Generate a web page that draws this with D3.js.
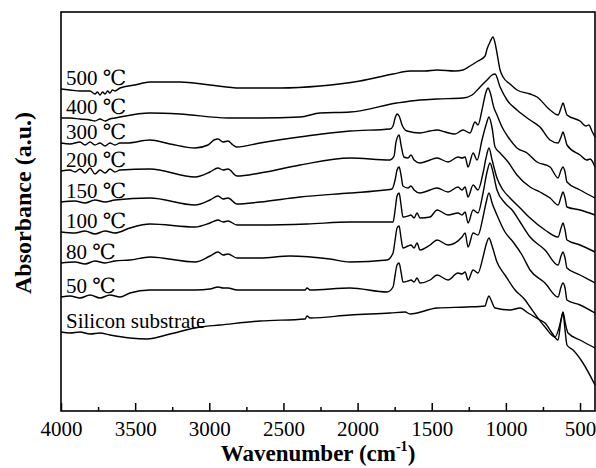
<!DOCTYPE html>
<html>
<head>
<meta charset="utf-8">
<script src="https://cdn.jsdelivr.net/npm/d3@7"></script>
<style>
  body { margin: 0; background: #fff; }
  svg { display: block; }
</style>
</head>
<body>
<div id="wrapper"></div>
<script>
// FTIR spectra, [wavenumber (cm-1), absorbance (a.u., stacked)]
const majorTicks = [4000, 3500, 3000, 2500, 2000, 1500, 1000, 500]
const minorTicks = [3750, 3250, 2750, 2250, 1750, 1250, 750]
const curveNames = ["500 ℃", "400 ℃", "300 ℃", "200 ℃", "150 ℃", "100 ℃", "80 ℃", "50 ℃", "Silicon substrate"]

const s500 = [[4000,322],[3939,321],[3872,320],[3804,320],[3771,317],[3754,319],[3737,316],[3720,319],[3703,317],[3686,320],[3670,318],[3653,321],[3636,320],[3602,323],[3501,326],[3400,329],[3197,329],[2995,326],[2793,323],[2523,323],[2253,325],[1984,330],[1761,337],[1646,340],[1545,340],[1464,341],[1343,340],[1289,341],[1242,345],[1188,350],[1140,355],[1127,362],[1107,369],[1087,374],[1073,368],[1060,358],[1039,341],[1019,334],[972,327],[925,321],[837,317],[790,314],[702,301],[648,296],[628,303],[615,308],[601,302],[588,296],[500,290],[460,285],[440,286],[420,280],[399,274]]
const s400 = [[4000,293],[3939,293],[3872,292],[3804,291],[3771,290],[3737,292],[3703,290],[3670,292],[3636,293],[3602,294],[3400,298],[3197,297],[2874,293],[2658,293],[2388,294],[2253,298],[2051,299],[1734,308],[1579,311],[1464,312],[1289,313],[1228,316],[1174,324],[1127,331],[1093,336],[1073,337],[1039,324],[992,311],[925,301],[837,291],[770,284],[702,271],[648,268],[628,274],[615,279],[601,273],[588,266],[500,256],[453,251],[432,252],[399,244]]
const s300 = [[4000,268],[3939,267],[3872,269],[3838,266],[3804,269],[3771,266],[3737,268],[3703,265],[3670,268],[3636,266],[3602,268],[3555,268],[3400,271],[3265,267],[3096,263],[3009,266],[2968,271],[2941,272],[2907,269],[2874,270],[2840,266],[2813,264],[2658,268],[2341,275],[2186,278],[2051,280],[1781,282],[1761,285],[1747,293],[1734,297],[1720,295],[1700,286],[1667,280],[1579,278],[1511,280],[1464,281],[1410,279],[1343,277],[1289,281],[1242,278],[1208,289],[1188,286],[1161,301],[1134,319],[1120,323],[1107,319],[1080,303],[1060,296],[1026,284],[985,274],[925,263],[857,258],[790,249],[702,244],[648,233],[628,241],[615,244],[601,239],[588,229],[500,221],[399,213]]
const s200 = [[4000,240],[3939,241],[3906,239],[3872,242],[3838,238],[3804,243],[3771,237],[3737,241],[3703,238],[3670,242],[3636,239],[3602,241],[3400,242],[3096,234],[2995,239],[2941,243],[2907,241],[2874,242],[2813,235],[2658,238],[2388,246],[2051,253],[1781,251],[1754,255],[1741,269],[1720,276],[1707,266],[1687,254],[1660,253],[1640,256],[1619,251],[1579,248],[1511,251],[1464,253],[1390,249],[1323,254],[1296,253],[1275,254],[1255,244],[1221,258],[1194,251],[1161,271],[1134,286],[1114,294],[1093,283],[1073,264],[1039,258],[985,249],[925,236],[837,224],[770,219],[702,213],[648,206],[628,214],[615,219],[601,213],[588,204],[500,201],[399,196]]
const s150 = [[4000,209],[3906,210],[3838,208],[3771,211],[3703,209],[3636,211],[3400,213],[3096,206],[2995,211],[2941,215],[2907,212],[2874,213],[2813,207],[2658,209],[2388,214],[2051,218],[1815,221],[1768,222],[1747,231],[1734,241],[1720,244],[1707,236],[1694,225],[1660,223],[1640,225],[1619,221],[1579,218],[1511,221],[1464,223],[1390,219],[1323,224],[1296,221],[1275,224],[1255,214],[1221,226],[1188,221],[1154,238],[1134,253],[1114,263],[1093,251],[1060,233],[1019,221],[972,213],[904,203],[837,193],[736,181],[648,174],[628,183],[615,188],[601,181],[588,171],[500,166],[399,159]]
const s100 = [[4000,179],[3906,178],[3838,180],[3771,177],[3703,180],[3636,178],[3535,183],[3400,187],[3096,184],[2995,188],[2941,191],[2907,189],[2874,190],[2813,186],[2658,186],[2341,187],[2051,189],[1761,189],[1747,201],[1734,215],[1720,218],[1707,206],[1694,194],[1660,195],[1640,196],[1619,193],[1599,198],[1579,193],[1511,194],[1464,201],[1390,196],[1323,198],[1296,196],[1275,199],[1255,188],[1221,201],[1188,198],[1154,218],[1127,239],[1107,248],[1087,239],[1060,221],[1006,208],[958,201],[904,189],[837,174],[736,161],[648,146],[628,155],[615,159],[601,153],[588,143],[500,136],[399,128]]
const s80 = [[4000,148],[3906,149],[3838,147],[3771,150],[3703,148],[3636,150],[3535,151],[3400,154],[3096,149],[2995,155],[2941,159],[2907,156],[2874,157],[2813,153],[2658,153],[2456,155],[2186,152],[2051,149],[1801,151],[1761,158],[1747,171],[1734,183],[1720,185],[1707,173],[1694,163],[1660,165],[1640,166],[1619,163],[1599,168],[1579,161],[1511,166],[1464,171],[1390,166],[1296,174],[1275,178],[1255,164],[1221,178],[1188,176],[1154,194],[1134,208],[1114,218],[1093,208],[1060,196],[1006,179],[951,169],[891,156],[837,141],[736,128],[648,114],[628,124],[615,128],[601,123],[588,111],[500,106],[399,98]]
const s50 = [[4000,114],[3939,115],[3872,113],[3804,116],[3737,113],[3670,116],[3602,114],[3535,118],[3400,121],[3096,121],[2995,122],[2941,124],[2907,123],[2874,123],[2813,121],[2354,121],[2341,123],[2320,121],[2051,123],[1801,119],[1761,124],[1747,136],[1734,146],[1720,148],[1707,139],[1694,129],[1660,130],[1640,131],[1619,129],[1599,133],[1579,128],[1511,131],[1464,136],[1390,131],[1323,138],[1296,137],[1275,139],[1255,131],[1221,141],[1188,138],[1154,154],[1134,166],[1114,173],[1093,165],[1060,149],[1006,136],[938,121],[870,111],[837,104],[736,84],[669,74],[628,91],[615,99],[601,89],[581,78],[500,71],[399,63]]
const sSilicon = [[4000,79],[3939,78],[3872,79],[3804,77],[3737,78],[3670,76],[3535,73],[3420,72],[3265,77],[3063,84],[2928,86],[2658,90],[2354,92],[2341,95],[2320,93],[2051,96],[1781,98],[1680,99],[1646,97],[1464,103],[1262,104],[1140,105],[1127,111],[1114,115],[1100,111],[1073,103],[972,101],[904,103],[850,98],[770,91],[736,88],[689,78],[648,71],[628,91],[615,98],[601,81],[588,66],[547,61],[480,48],[399,26]]

const spectra = [s500, s400, s300, s200, s150, s100, s80, s50, sSilicon]

let dimensions = {
    width: 596,
    height: 468,
    margin: { top: 12, right: 1, bottom: 57, left: 61 },
}
dimensions.boundedWidth = dimensions.width - dimensions.margin.left - dimensions.margin.right
dimensions.boundedHeight = dimensions.height - dimensions.margin.top - dimensions.margin.bottom

const wrapper = d3.select("#wrapper")
  .append("svg")
    .attr("width", dimensions.width)
    .attr("height", dimensions.height)

const bounds = wrapper.append("g")
    .attr("transform", `translate(${dimensions.margin.left},${dimensions.margin.top})`)

const xScale = d3.scaleLinear()
    .domain([4000, 399])
    .range([0, dimensions.boundedWidth])
const yScale = d3.scaleLinear()
    .domain([0, 399])
    .range([dimensions.boundedHeight, 0])

const lineGenerator = d3.line()
    .x(d => xScale(d[0]))
    .y(d => yScale(d[1]))
    .curve(d3.curveMonotoneX)

bounds.selectAll(".spectrum")
  .data(spectra)
  .join("path")
    .attr("class", "spectrum")
    .attr("d", lineGenerator)
    .attr("fill", "none")
    .attr("stroke", "#000")
    .attr("stroke-width", 1.4)
    .attr("stroke-linejoin", "round")

bounds.selectAll(".curve-label")
  .data(spectra)
  .join("text")
    .attr("class", "curve-label")
    .attr("x", 5)
    .attr("y", d => yScale(d[0][1]) - 4)
    .text((d, i) => curveNames[i])
    .style("font-family", "'Liberation Serif', 'DejaVu Serif', serif")
    .style("font-size", "21px")

// ticks point inward
const xAxis = bounds.append("g")
    .attr("transform", `translate(0,${dimensions.boundedHeight})`)
    .call(d3.axisBottom(xScale).tickValues(majorTicks).tickSize(-8).tickSizeOuter(0).tickPadding(10).tickFormat(d3.format("d")))
const xMinor = bounds.append("g")
    .attr("transform", `translate(0,${dimensions.boundedHeight})`)
    .call(d3.axisBottom(xScale).tickValues(minorTicks).tickSize(-4).tickSizeOuter(0).tickFormat(""))
xAxis.select(".domain").remove()
xMinor.select(".domain").remove()
xAxis.selectAll("line").attr("stroke-width", 1.5)
xMinor.selectAll("line").attr("stroke-width", 1.5)
xAxis.selectAll("text")
    .style("font-family", "'Liberation Serif', serif")
    .style("font-size", "21px")
    .attr("fill", "#000")

bounds.append("rect")
    .attr("width", dimensions.boundedWidth)
    .attr("height", dimensions.boundedHeight)
    .attr("fill", "none")
    .attr("stroke", "#000")
    .attr("stroke-width", 1.6)

const xLabel = wrapper.append("text")
    .attr("x", 318)
    .attr("y", 461)
    .attr("text-anchor", "middle")
    .style("font-family", "'Liberation Serif', serif")
    .style("font-size", "23px")
    .style("font-weight", "bold")
xLabel.append("tspan").text("Wavenumber (cm")
xLabel.append("tspan").text("-1").attr("dy", -10).style("font-size", "14px")
xLabel.append("tspan").text(")").attr("dy", 10)

wrapper.append("text")
    .attr("transform", "translate(31,203) rotate(-90)")
    .attr("text-anchor", "middle")
    .style("font-family", "'Liberation Serif', serif")
    .style("font-size", "24px")
    .style("font-weight", "bold")
    .text("Absorbance (a.u.)")
</script>
</body>
</html>
